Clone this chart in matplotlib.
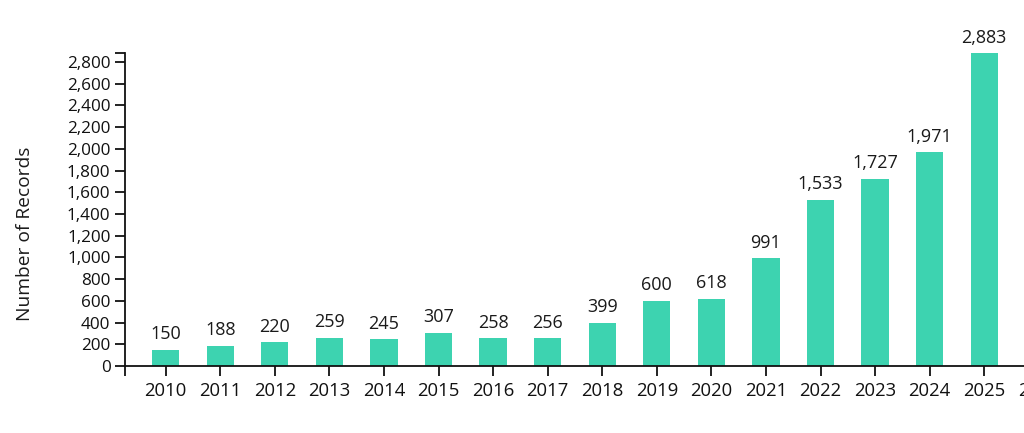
import matplotlib.pyplot as plt
from matplotlib.ticker import FuncFormatter

# donnees
years = [str(y) for y in range(2010, 2026)]
records = [150, 188, 220, 259, 245, 307, 258, 256, 399, 600, 618, 991, 1533, 1727, 1971, 2883]
tick_labels = years + ["2026"]  # la derniere etiquette est coupee par le bord
y_ticks = list(range(0, 2801, 200))

BAR_COLOR = "#3dd3b0"

plt.rcParams["font.family"] = ["Open Sans", "DejaVu Sans"]

fig = plt.figure(figsize=(10.24, 4.33), dpi=100)
# l'axe depasse a droite de la figure, comme dans l'original
left_px, right_px, top_px, bottom_px = 125, 1100, 53, 366
ax = fig.add_axes([left_px / 1024, 1 - bottom_px / 433,
                   (right_px - left_px) / 1024, (bottom_px - top_px) / 433])

x = list(range(len(years)))
ax.bar(x, records, width=0.5, color=BAR_COLOR)

for i, v in enumerate(records):
    ax.annotate("{:,}".format(v), (i, v), xytext=(0, 7.5), textcoords="offset points",
                ha="center", va="baseline", fontsize=13, color="#1a1a1a")

step = 54.57
ax.set_xlim(-(165.7 - left_px) / step, (right_px - 165.7) / step)
ax.set_ylim(0, max(records))

ax.set_xticks(range(len(tick_labels)))
ax.set_xticklabels(tick_labels)
ax.set_yticks(y_ticks)
ax.yaxis.set_major_formatter(FuncFormatter(lambda v, p: "{:,}".format(int(v))))

# petites graduations aux extremites des axes
ax.set_xticks([ax.get_xlim()[0]], minor=True)
ax.set_yticks([max(records)], minor=True)

for side in ["top", "right"]:
    ax.spines[side].set_visible(False)
for side in ["left", "bottom"]:
    ax.spines[side].set_linewidth(1.3)
    ax.spines[side].set_color("#111111")

ax.tick_params(axis="both", which="both", length=7.5, width=1.3, color="#111111")
ax.tick_params(axis="x", which="major", labelsize=13.3, pad=4, labelcolor="#111111")
ax.tick_params(axis="y", which="major", labelsize=12.3, pad=3, labelcolor="#111111")
ax.tick_params(axis="both", which="minor", labelbottom=False, labelleft=False)

fig.text(25 / 1024, 1 - 234 / 433, "Number of Records", rotation=90,
         ha="center", va="center", fontsize=13.8, color="#1a1a1a")

fig.savefig("out.png", dpi=100)
